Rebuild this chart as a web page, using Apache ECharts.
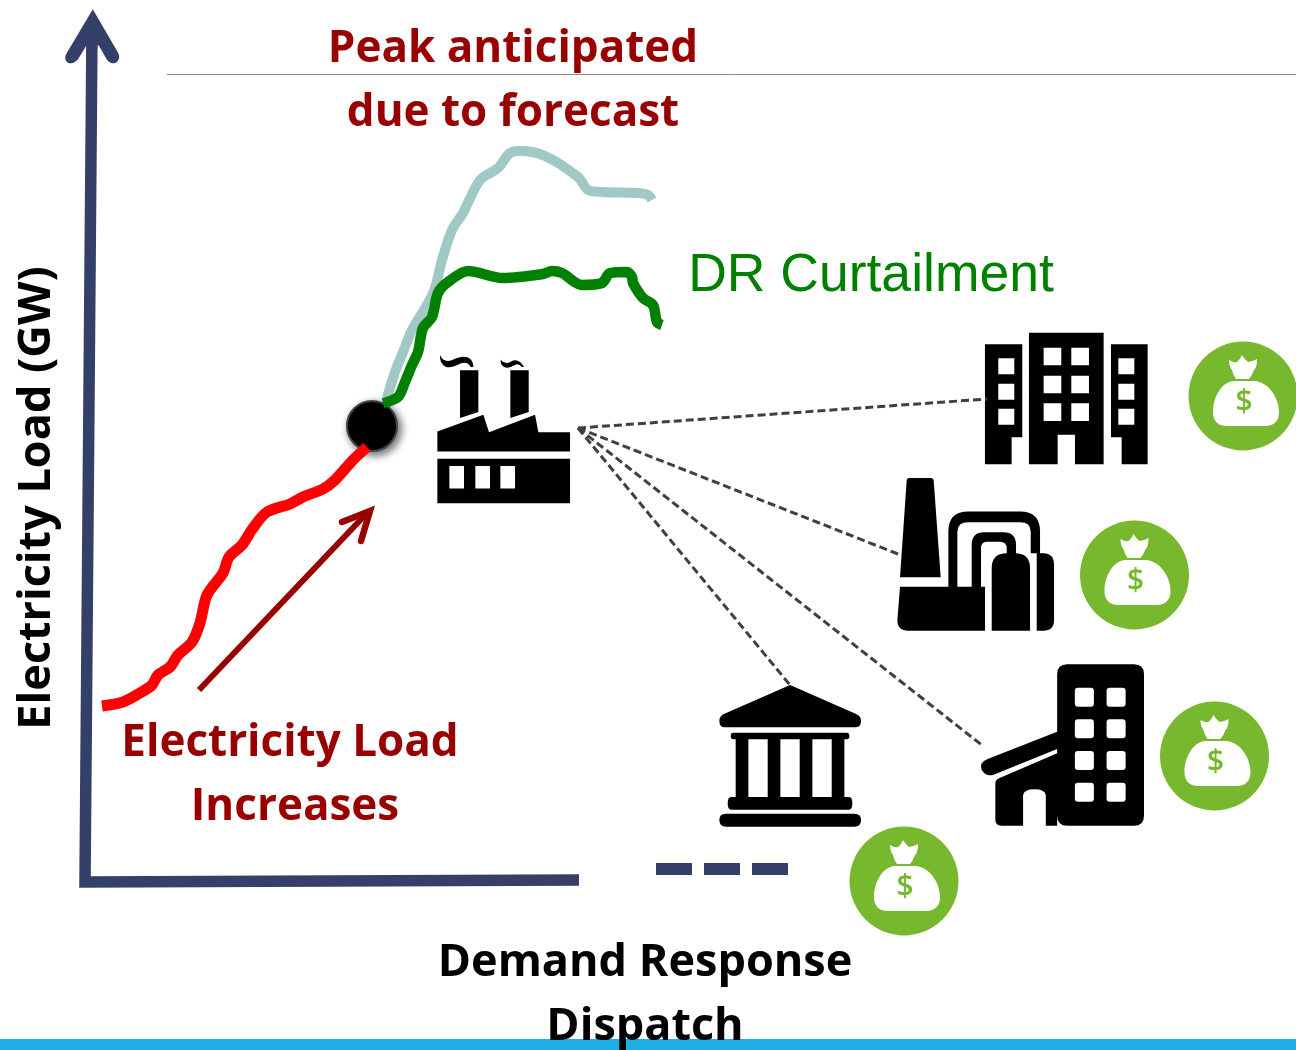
<!DOCTYPE html>
<html lang="en">
	<head>
		<meta charset="utf-8" />
		<title>Demand Response Dispatch</title>
		<style>
			html, body { margin: 0; padding: 0; background: #fff; overflow: hidden; }
			#ec { width: 1296px; height: 1050px; }
		</style>
	</head>
	<body>
		<div id="ec"></div>

		<script src="https://cdn.jsdelivr.net/npm/echarts@6/dist/echarts.min.js"></script>
		<script type="text/javascript">
			// curves (x, y in picture pixels)
			const loadRising = [[102,706],[123,702],[140,693],[152,685],[158,675],[170,667],[178,655],[192,642],[200,623],[207,595],[223,573],[229,557],[242,545],[253,528],[267,512],[290,504],[303,497],[323,489],[335,480],[353,460],[367,447]];
			const peakForecast = [[387,398],[395,372],[403,352],[412,330],[427,305],[435,288],[442,260],[452,230],[463,213],[480,180],[498,168],[510,153],[520,151],[545,156],[578,177],[588,190],[603,192],[637,193],[648,195],[652,200]];
			const drCurtailed = [[383,403],[398,397],[405,382],[412,365],[418,352],[423,328],[432,317],[438,293],[448,282],[468,271],[503,278],[543,274],[552,271],[562,273],[582,285],[602,283],[610,273],[627,272],[632,277],[633,283],[643,298],[653,305],[657,322],[662,325]];
			const axisLines = [[92,30],[85,882],[579,880]];
			const axisGap = [[656,869],[788,869]];
			const riseArrow = [[199,690],[368,512]];
			const riseHead = [[342,522],[370,511],[361,541]];
			const topRule = [[167,74.5],[1296,74.5]];
			const footerBand = [[0,1044.5],[1296,1044.5]];
			const triggerPoint = [[372,426]];
			const dispatchHub = [578,428];
			const dispatchEnds = [[987,399],[898,554],[983,746],[790,685]];
			const moneyBags = [[1243,396],[1134.5,575],[1214.5,756],[904,881]];

			const rect = (x, y, w, h) => `M${x},${y}L${x + w},${y}L${x + w},${y + h}L${x},${y + h}Z`;
			// opposite winding, so it cuts a hole
			const hole = (x, y, w, h) => `M${x},${y}L${x},${y + h}L${x + w},${y + h}L${x + w},${y}Z`;
			const holes = (xs, ys, w, h) => xs.map(x => ys.map(y => hole(x, y, w, h)).join('')).join('');
			// same but with rounded corners
			const roundHole = (x, y, w, h, r) => `M${x + r},${y}Q${x},${y} ${x},${y + r}L${x},${y + h - r}Q${x},${y + h} ${x + r},${y + h}L${x + w - r},${y + h}Q${x + w},${y + h} ${x + w},${y + h - r}L${x + w},${y + r}Q${x + w},${y} ${x + w - r},${y}Z`;
			const roundHoles = (xs, ys, w, h, r) => xs.map(x => ys.map(y => roundHole(x, y, w, h, r)).join('')).join('');

			const arrowPath = 'M278,28L352,155Q364,175 345,187Q328,192 318,175L296,135L259,135L235,175Q222,192 205,187Q188,175 202,155Z';
			const factoryPath = 'M300,42Q310,66 335,58Q365,42 385,50Q400,58 400,78L392,78Q385,62 365,66Q335,82 318,78Q298,68 300,42Z'
				+ 'M482,56Q495,72 512,62Q535,48 552,78L546,78Q535,66 525,72Q505,84 492,78Q480,70 482,56Z'
				+ rect(360, 88, 55, 120) + 'M360,208L415,208L415,214L360,232Z'
				+ rect(511, 88, 55, 120) + 'M511,208L566,208L566,214L511,232Z'
				+ 'M292,273L430,222L447,275L585,222L595,275L690,275L690,333L292,333Z'
				+ rect(292, 355, 398, 135) + holes([328, 406, 481], [377], 44, 68);
			const officePath = rect(75, 73, 112, 279) + rect(75, 352, 80, 81)
				+ holes([115], [115, 191, 266], 48, 48)
				+ 'M207,38L431,38L431,433L345,433L345,344L293,344L293,433L207,433Z'
				+ holes([251, 334], [83, 167, 250], 53, 53)
				+ rect(453, 73, 110, 279) + rect(485, 352, 78, 81)
				+ holes([475], [115, 191, 266], 48, 48);
			const refineryPath = 'M88,24L152,24Q160,24 161,32L182,322L60,322L80,32Q80,24 88,24Z'
				+ 'M60,350L315,350L315,482L85,482Q52,482 52,450Z'
				+ 'M205,352L205,185Q205,125 265,125L420,125Q480,125 480,185L480,250L452,250L452,185Q452,157 420,157L265,157Q232,157 232,185L232,352Z'
				+ 'M275,352L275,225Q275,187 312,187L370,187Q408,187 408,225L408,250L380,250L380,235Q380,215 360,215L320,215Q303,215 303,235L303,352Z'
				+ 'M335,482L335,295Q335,250 380,250L405,250Q450,250 450,295L450,482Z'
				+ 'M470,250L490,250Q522,250 522,285L522,450Q522,482 490,482L470,482Z';
			const plantPath = 'M322,43L522,43Q552,43 552,73L552,497Q552,527 522,527L322,527Q292,527 292,497L292,73Q292,43 322,43Z'
				+ roundHoles([345, 440], [113, 208, 303, 398], 57, 57, 9)
				+ 'M292,245L292,297L100,375Q78,380 66,360Q58,338 82,328Z'
				+ 'M292,310L292,527L258,527L258,435Q255,418 224,418Q193,418 190,435L190,527L125,527Q107,527 107,510L107,400Q107,390 118,385Z';
			const bankPath = 'M270,45L470,133Q483,140 483,152Q483,172 465,172L75,172Q58,172 58,152Q58,140 70,133Z'
				+ 'M100,188L440,188Q448,188 448,198Q448,208 440,208L433,208L433,381L447,381Q457,381 457,400Q457,419 447,419L93,419Q83,419 83,400Q83,381 93,381L107,381L107,208L100,208Q92,208 92,198Q92,188 100,188Z'
				+ holes([145, 241, 337], [208], 58, 173)
				+ 'M78,431L463,431Q483,431 483,450Q483,470 463,470L78,470Q58,470 58,450Q58,431 78,431Z';
			const bagPath = 'M-14,-36Q-9,-33 -6,-34Q-3,-36 -1,-41Q2,-36 5,-34Q9,-34 14,-37Q14,-28 11,-26Q9,-20 6,-17L-7,-17Q-10,-21 -11,-26Q-14,-30 -14,-36Z'
				+ 'M-9,-15L11,-15C26,-14 36,2 36,16C36,26 30,30 22,30L-16,30C-24,30 -30,26 -30,16C-30,2 -22,-14 -9,-15Z';

			const plainLine = (data, color, width, extra = {}, smooth = false) => ({
				type: 'line',
				data,
				smooth,
				symbol: 'none',
				silent: true,
				lineStyle: { color, width, cap: 'butt', join: 'round', ...extra },
			});
			const icon = (path, x, y, w, h, color = '#000') => ({
				type: 'scatter',
				data: [[x, y]],
				symbol: 'path://' + path,
				symbolSize: [w, h],
				silent: true,
				itemStyle: { color, opacity: 1 },
			});
			const text = (str, x, y, font, fill, rotation = 0) => ({
				type: 'text',
				x,
				y,
				rotation,
				z: 100,
				silent: true,
				style: { text: str, font, fill, align: 'center', verticalAlign: 'middle' },
			});

			const navy = '#344069';
			const darkRed = '#990000';
			const boldFont = 'bold 44px "Open Sans"';
			const axisFont = 'bold 45px "Open Sans"';

			const option = {
				animation: false,
				grid: { left: 0, right: 0, top: 0, bottom: 0 },
				xAxis: { type: 'value', min: 0, max: 1296, show: false },
				yAxis: { type: 'value', min: 0, max: 1050, inverse: true, show: false },
				graphic: [
					text('Peak anticipated', 513, 49, boldFont, darkRed),
					text('due to forecast', 513, 113, boldFont, darkRed),
					text('DR Curtailment', 871, 276, '53.5px "Liberation Sans"', '#008000'),
					text('Electricity Load', 290, 743, boldFont, darkRed),
					text('Increases', 295, 807, boldFont, darkRed),
					text('Demand Response', 645, 963, axisFont, '#000'),
					text('Dispatch', 645, 1027, axisFont, '#000'),
					text('Electricity Load (GW)', 37, 498, axisFont, '#000', Math.PI / 2),
				],
				series: [
					plainLine(topRule, '#8c8c8c', 1),
					plainLine(footerBand, '#1eaee6', 11),
					plainLine(axisLines, navy, 11.5, { join: 'miter' }),
					plainLine(axisGap, navy, 12, { type: [36, 12] }),
					icon(arrowPath, 92.2, 36.3, 54.3, 54, navy),
					plainLine(peakForecast, '#a0c8c5', 10, {}, 0.3),
					plainLine(drCurtailed, '#008000', 10.5, {}, 0.3),
					plainLine(loadRising, '#ff0000', 11, {}, 0.3),
					plainLine(riseArrow, darkRed, 6),
					plainLine(riseHead, darkRed, 6.5, { cap: 'round', join: 'miter' }),
					...dispatchEnds.map(end => plainLine([dispatchHub, end], '#404040', 3, { type: [8, 4] })),
					{
						type: 'scatter',
						data: triggerPoint,
						symbol: 'circle',
						symbolSize: 50,
						silent: true,
						itemStyle: {
							color: '#000',
							opacity: 1,
							borderColor: '#444',
							borderWidth: 2,
							shadowColor: 'rgba(0,0,0,0.6)',
							shadowBlur: 8,
							shadowOffsetX: 3,
							shadowOffsetY: 3,
						},
					},
					icon(factoryPath, 503.7, 429.2, 132.7, 148.3),
					icon(officePath, 1066.3, 398.5, 162.7, 131.7),
					icon(refineryPath, 975.7, 554.3, 156.7, 152.7),
					icon(plantPath, 1062.5, 745, 163, 161.3),
					icon(bankPath, 790.2, 755.8, 141.7, 141.7),
					{
						type: 'scatter',
						data: moneyBags,
						symbol: 'circle',
						symbolSize: 109,
						silent: true,
						itemStyle: { color: '#77b82e', opacity: 1 },
					},
					{
						type: 'scatter',
						data: moneyBags,
						symbol: 'path://' + bagPath,
						symbolSize: [66, 71],
						symbolOffset: [3, -5.5],
						silent: true,
						itemStyle: { color: '#fff', opacity: 1 },
						label: {
							show: true,
							position: 'inside',
							formatter: '$',
							offset: [-2, 12],
							color: '#77b82e',
							fontFamily: 'Open Sans',
							fontWeight: 600,
							fontSize: 30,
						},
					},
				],
			};
			const ec = echarts.init(document.getElementById('ec'));
			ec.setOption(option);
		</script>
	</body>
</html>
